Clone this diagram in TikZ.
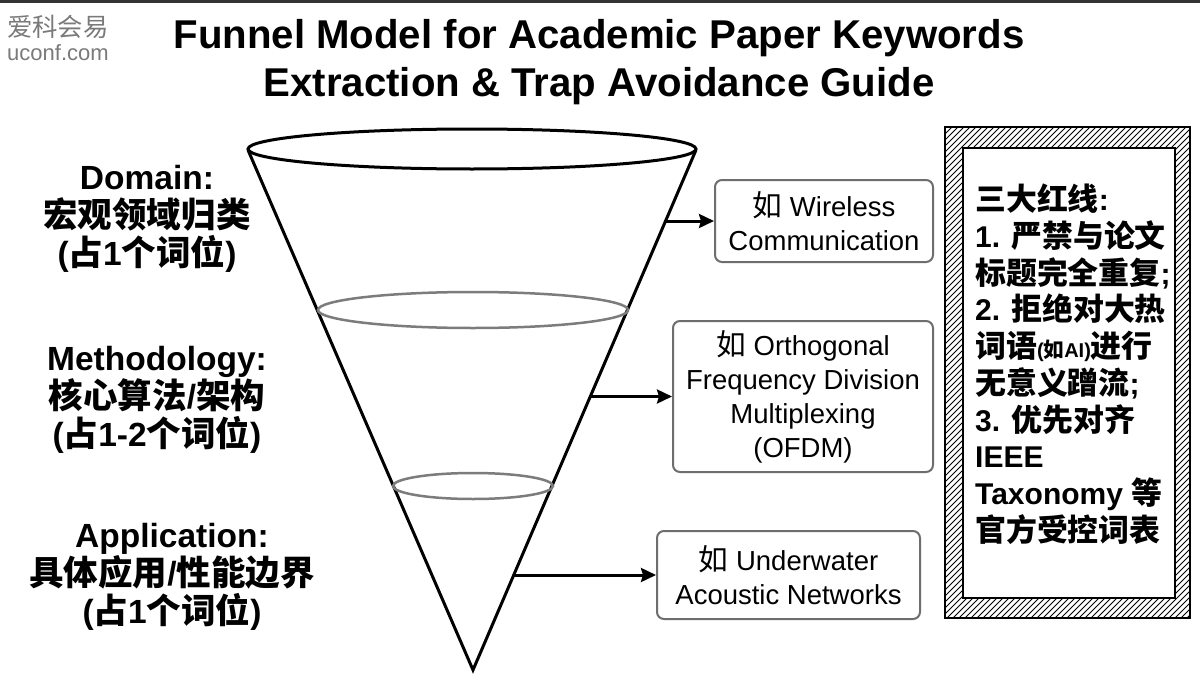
\documentclass[tikz,border=0pt]{standalone}
\usepackage{fontspec}
\setmainfont{Liberation Sans}
\newfontfamily\cjk[Scale=1.08]{Noto Sans CJK SC}
\newfontfamily\cjkl[Scale=1.03]{Noto Sans CJK SC}
\newcommand{\zh}[1]{{\cjk #1}}
\newcommand{\zhl}[1]{{\cjkl #1}}
\usetikzlibrary{arrows.meta}
\definecolor{ringgray}{HTML}{7C7C7C}
\definecolor{boxgray}{HTML}{6E6E6E}
\definecolor{wmgray}{HTML}{7A7A7A}
\definecolor{topbar}{HTML}{333333}
\begin{document}
\begin{tikzpicture}[x=1pt,y=-1pt,
  funnel/.style={line width=3pt, line join=miter},
  ring/.style={draw=ringgray, line width=2.5pt},
  exbox/.style={draw=boxgray, line width=2pt, rounded corners=7pt, fill=white, align=center, inner sep=0pt, font=\fontsize{27.5}{34}\selectfont},
  lvl/.style={align=center, inner sep=0pt, font=\bfseries\fontsize{33.5}{38}\selectfont},
  pointer/.style={line width=3pt, -{Stealth[length=15pt,width=14pt,inset=2pt]}},
  frameline/.style={line width=2.5pt},
  hatch/.style={line width=1pt}]
\useasboundingbox (0,0) rectangle (1200,680);
\fill[white] (0,0) rectangle (1200,680);
\fill[topbar] (0,0) rectangle (1200,2.5);

% watermark
\node[anchor=west, inner sep=0, text=wmgray, font=\fontsize{23.5}{26}\selectfont] (wm1) at (7,27) {\zh{爱科会易}};
\node[anchor=west, inner sep=0, text=wmgray, font=\fontsize{22}{26}\selectfont] (wm2) at (7,53) {uconf.com};

% title
\node[align=center, inner sep=0, font=\bfseries\fontsize{40.2}{48}\selectfont] (title) at (599,62) {Funnel Model for Academic Paper Keywords\\Extraction \& Trap Avoidance Guide};

% funnel
\draw[funnel] (248,150) -- (473,670) -- (696,150);
\draw[funnel] (472,149) ellipse [x radius=224, y radius=20];
\draw[ring] (473,310) ellipse [x radius=155, y radius=18];
\draw[ring] (473,486) ellipse [x radius=80, y radius=13];

% level labels
\node[lvl] (dom) at (147,219) {Domain:\\\zhl{宏观领域归类}\\(\zhl{占}1\zhl{个词位})};
\node[lvl] (meth) at (157,400) {Methodology:\\\zhl{核心算法}/\zhl{架构}\\(\zhl{占}1-2\zhl{个词位})};
\node[lvl] (app) at (172,577) {Application:\\\zhl{具体应用}/\zhl{性能边界}\\(\zhl{占}1\zhl{个词位})};

% example boxes
\node[exbox, minimum width=218pt, minimum height=82pt] (ex1) at (824,221) {\zh{如} Wireless\\Communication};
\node[exbox, minimum width=260pt, minimum height=151pt] (ex2) at (803,396.5) {\zh{如} Orthogonal\\Frequency Division\\Multiplexing\\(OFDM)};
\node[exbox, minimum width=263pt, minimum height=88pt] (ex3) at (788.5,575) {\zh{如} Underwater\\Acoustic Networks};

\coordinate (s1) at (665.6,221);
\coordinate (s2) at (590.3,396.5);
\coordinate (s3) at (513.8,575);
\draw[pointer] (s1) -- (ex1.west);
\draw[pointer] (s2) -- (ex2.west);
\draw[pointer] (s3) -- (ex3.west);

% red-line frame
\begin{scope}[even odd rule]
  \clip (945,127) rectangle (1190,618) (963,148) rectangle (1175,598);
  \foreach \t in {-520,-514,...,260} {
    \draw[hatch] (945+\t,630) -- (945+\t+520,110);
  }
\end{scope}
\draw[frameline] (945,127) rectangle (1190,618);
\draw[frameline] (963,148) rectangle (1175,598);

\node[anchor=north west, align=left, inner sep=0pt, font=\bfseries\fontsize{30}{36.7}\selectfont] (rules) at (975,184)
{\zhl{三大红线}:\\1. \zhl{严禁与论文}\\\zhl{标题完全重复};\\2. \zhl{拒绝对大热}\\\zhl{词语}{\fontsize{20}{20}\selectfont(\zhl{如}AI)}\zhl{进行}\\\zhl{无意义蹭流};\\3. \zhl{优先对齐}\\IEEE\\Taxonomy \zhl{等}\\\zhl{官方受控词表}};
\end{tikzpicture}
\end{document}
